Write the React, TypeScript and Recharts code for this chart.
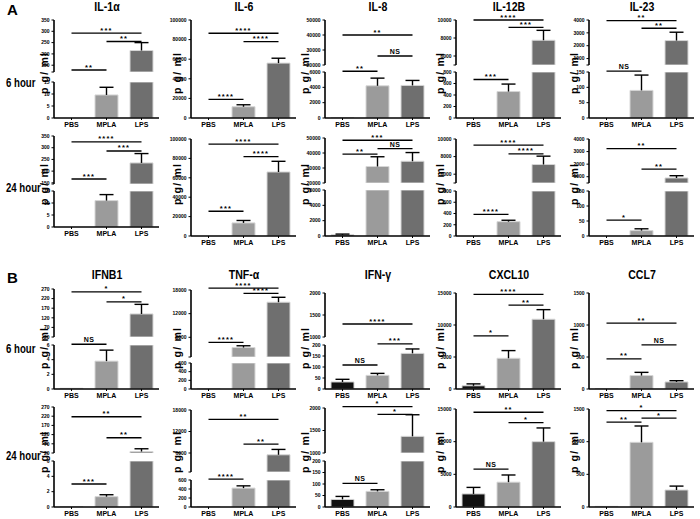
import React from 'react';
import { BarChart, Bar, XAxis, YAxis, Cell, ReferenceLine } from 'recharts';

type Sig = [string, string, number, string];

const categories = ['PBS', 'MPLA', 'LPS'];

// ---------- A : 6 hour ----------
const il1a6Mean = [0, 9.6, 215];
const il1a6Sem = [0, 3.2, 35];
const il1a6Sig: Sig[] = [['PBS', 'MPLA', 20, '**'], ['MPLA', 'LPS', 255, '**'], ['PBS', 'LPS', 292, '***']];

const il66Mean = [0, 11500, 56000];
const il66Sem = [0, 2000, 5000];
const il66Sig: Sig[] = [['PBS', 'MPLA', 19000, '****'], ['MPLA', 'LPS', 78000, '****'], ['PBS', 'LPS', 86500, '****']];

const il86Mean = [40, 4200, 4250];
const il86Sem = [0, 1000, 650];
const il86Sig: Sig[] = [['PBS', 'MPLA', 6100, '**'], ['MPLA', 'LPS', 26000, 'NS'], ['PBS', 'LPS', 40000, '**']];

const il12b6Mean = [0, 460, 7750];
const il12b6Sem = [0, 130, 1100];
const il12b6Sig: Sig[] = [['PBS', 'MPLA', 670, '***'], ['MPLA', 'LPS', 9190, '***'], ['PBS', 'LPS', 10000, '****']];

const il236Mean = [0, 90, 2400];
const il236Sem = [0, 50, 650];
const il236Sig: Sig[] = [['PBS', 'MPLA', 153, 'NS'], ['MPLA', 'LPS', 3360, '**'], ['PBS', 'LPS', 3950, '**']];

// ---------- A : 24 hour ----------
const il1a24Mean = [0, 11, 235];
const il1a24Sem = [0, 2.5, 40];
const il1a24Sig: Sig[] = [['PBS', 'MPLA', 20, '***'], ['MPLA', 'LPS', 286, '***'], ['PBS', 'LPS', 325, '****']];

const il624Mean = [0, 13500, 66000];
const il624Sem = [0, 2500, 11000];
const il624Sig: Sig[] = [['PBS', 'MPLA', 25500, '***'], ['MPLA', 'LPS', 81800, '****'], ['PBS', 'LPS', 94800, '****']];

const il824Mean = [150, 31000, 34500];
const il824Sem = [100, 6500, 5800];
const il824Sig: Sig[] = [['PBS', 'MPLA', 39300, '**'], ['MPLA', 'LPS', 42900, 'NS'], ['PBS', 'LPS', 48500, '***']];

const il12b24Mean = [0, 255, 7100];
const il12b24Sem = [0, 25, 950];
const il12b24Sig: Sig[] = [['PBS', 'MPLA', 386, '****'], ['MPLA', 'LPS', 8300, '****'], ['PBS', 'LPS', 9300, '****']];

const il2324Mean = [0, 18, 900];
const il2324Sem = [0, 6, 180];
const il2324Sig: Sig[] = [['PBS', 'MPLA', 53, '*'], ['MPLA', 'LPS', 1600, '**'], ['PBS', 'LPS', 3240, '**']];

// ---------- B : 6 hour ----------
const ifnb6Mean = [0.1, 3.8, 140];
const ifnb6Sem = [0.05, 1.5, 50];
const ifnb6Sig: Sig[] = [['PBS', 'MPLA', 6.1, 'NS'], ['MPLA', 'LPS', 203, '*'], ['PBS', 'LPS', 255, '*']];

const tnf6Mean = [10, 3400, 14900];
const tnf6Sem = [0, 450, 1250];
const tnf6Sig: Sig[] = [['PBS', 'MPLA', 4700, '****'], ['MPLA', 'LPS', 17160, '****'], ['PBS', 'LPS', 18500, '****']];

const ifng6Mean = [32, 62, 162];
const ifng6Sem = [12, 9, 20];
const ifng6Sig: Sig[] = [['PBS', 'MPLA', 109, 'NS'], ['MPLA', 'LPS', 205, '***'], ['PBS', 'LPS', 1295, '****']];

const cxcl6Mean = [500, 4800, 10900];
const cxcl6Sem = [300, 1200, 1500];
const cxcl6Sig: Sig[] = [['PBS', 'MPLA', 8300, '*'], ['MPLA', 'LPS', 13100, '**'], ['PBS', 'LPS', 14800, '****']];

const ccl76Mean = [5, 210, 110];
const ccl76Sem = [0, 50, 20];
const ccl76Sig: Sig[] = [['PBS', 'MPLA', 470, '**'], ['MPLA', 'LPS', 690, 'NS'], ['PBS', 'LPS', 1030, '**']];

// ---------- B : 24 hour ----------
const ifnb24Mean = [0.05, 1.35, 28];
const ifnb24Sem = [0, 0.25, 15];
const ifnb24Sig: Sig[] = [['PBS', 'MPLA', 3.0, '***'], ['MPLA', 'LPS', 103, '**'], ['PBS', 'LPS', 217, '**']];

const tnf24Mean = [10, 420, 5500];
const tnf24Sem = [0, 50, 1500];
const tnf24Sig: Sig[] = [['PBS', 'MPLA', 620, '****'], ['MPLA', 'LPS', 8500, '**'], ['PBS', 'LPS', 15400, '**']];

const ifng24Mean = [33, 68, 1370];
const ifng24Sem = [13, 7, 480];
const ifng24Sig: Sig[] = [['PBS', 'MPLA', 103, 'NS'], ['MPLA', 'LPS', 1860, '*'], ['PBS', 'LPS', 2030, '*']];

const cxcl24Mean = [2000, 3800, 10000];
const cxcl24Sem = [1000, 1100, 2100];
const cxcl24Sig: Sig[] = [['PBS', 'MPLA', 5800, 'NS'], ['MPLA', 'LPS', 12900, '*'], ['PBS', 'LPS', 14500, '**']];

const ccl724Mean = [10, 990, 260];
const ccl724Sem = [0, 250, 60];
const ccl724Sig: Sig[] = [['PBS', 'MPLA', 1300, '**'], ['MPLA', 'LPS', 1360, '*'], ['PBS', 'LPS', 1475, '*']];

// ---------- tick labels ----------
const il1aTopTicks = [150, 200, 250, 300, 350];
const il1aBottomTicks = [0, 5, 10, 15];
const il6Ticks = [0, 20000, 40000, 60000, 80000, 100000];
const il8TopTicks = [20000, 30000, 40000, 50000];
const il8BottomTicks = [0, 2000, 4000, 6000];
const il12bTopTicks = [6000, 8000, 10000];
const il12bBottomTicks = [0, 200, 400, 600, 800];
const il23TopTicks = [1000, 2000, 3000, 4000];
const il23BottomTicks = [0, 50, 100, 150];
const ifnbTopTicks = [20, 70, 120, 170, 220, 270];
const ifnbBottomTicks = [0, 2, 4, 6];
const tnfTopTicks = [6000, 12000, 18000];
const tnfBottomTicks = [0, 200, 400, 600];
const ifngTopTicks = [1000, 1500, 2000];
const ifngBottomTicks = [0, 50, 100, 150, 200];
const cxclTicks = [0, 5000, 10000, 15000];
const ccl7Ticks = [0, 500, 1000, 1500];

const titlesA = ['IL-1\u03b1', 'IL-6', 'IL-8', 'IL-12B', 'IL-23'];
const titlesB = ['IFNB1', 'TNF-\u03b1', 'IFN-\u03b3', 'CXCL10', 'CCL7'];
const rowLabels = ['6 hour', '24 hour', '6 hour', '24 hour'];

// ---------- layout / style ----------
const FONT = '"Liberation Sans Narrow", "Arial Narrow", "Liberation Sans", Arial, sans-serif';
const BAR_COLORS = ['#111111', '#9b9b9b', '#6f6f6f'];
const COL_X = [54, 191, 325, 456, 589];
const PLOT_W = 105;
const MT = 26;
const YW = 32;
const XH = 16;
const RIGHT = 6;

type Seg = { domain: [number, number]; ticks: number[]; y: [number, number] };
type Panel = { col: number; mean: number[]; sem: number[]; sig: Sig[]; segs: Seg[] };

const PANELS: Panel[] = [
  // row A 6h
  { col: 0, mean: il1a6Mean, sem: il1a6Sem, sig: il1a6Sig, segs: [
    { domain: [120, 350], ticks: il1aTopTicks, y: [20, 72] },
    { domain: [0, 15], ticks: il1aBottomTicks, y: [82, 118] }] },
  { col: 1, mean: il66Mean, sem: il66Sem, sig: il66Sig, segs: [
    { domain: [0, 100000], ticks: il6Ticks, y: [20, 118] }] },
  { col: 2, mean: il86Mean, sem: il86Sem, sig: il86Sig, segs: [
    { domain: [20000, 50000], ticks: il8TopTicks, y: [20, 65] },
    { domain: [0, 6000], ticks: il8BottomTicks, y: [72, 118] }] },
  { col: 3, mean: il12b6Mean, sem: il12b6Sem, sig: il12b6Sig, segs: [
    { domain: [5000, 10000], ticks: il12bTopTicks, y: [20, 65] },
    { domain: [0, 800], ticks: il12bBottomTicks, y: [72, 118] }] },
  { col: 4, mean: il236Mean, sem: il236Sem, sig: il236Sig, segs: [
    { domain: [500, 4000], ticks: il23TopTicks, y: [20, 65] },
    { domain: [0, 150], ticks: il23BottomTicks, y: [72, 118] }] },
  // row A 24h
  { col: 0, mean: il1a24Mean, sem: il1a24Sem, sig: il1a24Sig, segs: [
    { domain: [145, 350], ticks: il1aTopTicks, y: [136, 184] },
    { domain: [0, 15], ticks: il1aBottomTicks, y: [191, 227] }] },
  { col: 1, mean: il624Mean, sem: il624Sem, sig: il624Sig, segs: [
    { domain: [0, 100000], ticks: il6Ticks, y: [139, 236] }] },
  { col: 2, mean: il824Mean, sem: il824Sem, sig: il824Sig, segs: [
    { domain: [20000, 50000], ticks: il8TopTicks, y: [138, 183] },
    { domain: [0, 6000], ticks: il8BottomTicks, y: [190, 236] }] },
  { col: 3, mean: il12b24Mean, sem: il12b24Sem, sig: il12b24Sig, segs: [
    { domain: [5000, 10000], ticks: il12bTopTicks, y: [139, 183] },
    { domain: [0, 800], ticks: il12bBottomTicks, y: [191, 236] }] },
  { col: 4, mean: il2324Mean, sem: il2324Sem, sig: il2324Sig, segs: [
    { domain: [500, 4000], ticks: il23TopTicks, y: [139, 183] },
    { domain: [0, 150], ticks: il23BottomTicks, y: [191, 236] }] },
  // row B 6h
  { col: 0, mean: ifnb6Mean, sem: ifnb6Sem, sig: ifnb6Sig, segs: [
    { domain: [20, 270], ticks: ifnbTopTicks, y: [289, 337] },
    { domain: [0, 6], ticks: ifnbBottomTicks, y: [345, 389] }] },
  { col: 1, mean: tnf6Mean, sem: tnf6Sem, sig: tnf6Sig, segs: [
    { domain: [1000, 18000], ticks: tnfTopTicks, y: [290, 357] },
    { domain: [0, 600], ticks: tnfBottomTicks, y: [363, 389] }] },
  { col: 2, mean: ifng6Mean, sem: ifng6Sem, sig: ifng6Sig, segs: [
    { domain: [1000, 2000], ticks: ifngTopTicks, y: [293, 337] },
    { domain: [0, 200], ticks: ifngBottomTicks, y: [345, 389] }] },
  { col: 3, mean: cxcl6Mean, sem: cxcl6Sem, sig: cxcl6Sig, segs: [
    { domain: [0, 15000], ticks: cxclTicks, y: [293, 389] }] },
  { col: 4, mean: ccl76Mean, sem: ccl76Sem, sig: ccl76Sig, segs: [
    { domain: [0, 1500], ticks: ccl7Ticks, y: [293, 389] }] },
  // row B 24h
  { col: 0, mean: ifnb24Mean, sem: ifnb24Sem, sig: ifnb24Sig, segs: [
    { domain: [20, 270], ticks: ifnbTopTicks, y: [407, 453] },
    { domain: [0, 6], ticks: ifnbBottomTicks, y: [461, 507] }] },
  { col: 1, mean: tnf24Mean, sem: tnf24Sem, sig: tnf24Sig, segs: [
    { domain: [700, 18000], ticks: tnfTopTicks, y: [410, 472] },
    { domain: [0, 600], ticks: tnfBottomTicks, y: [480, 507] }] },
  { col: 2, mean: ifng24Mean, sem: ifng24Sem, sig: ifng24Sig, segs: [
    { domain: [1000, 2000], ticks: ifngTopTicks, y: [408, 453] },
    { domain: [0, 200], ticks: ifngBottomTicks, y: [461, 507] }] },
  { col: 3, mean: cxcl24Mean, sem: cxcl24Sem, sig: cxcl24Sig, segs: [
    { domain: [0, 15000], ticks: cxclTicks, y: [409, 507] }] },
  { col: 4, mean: ccl724Mean, sem: ccl724Sem, sig: ccl724Sig, segs: [
    { domain: [0, 1500], ticks: ccl7Ticks, y: [409, 507] }] },
];

const TITLE_Y = [6.5, 274.5];
const ROW_LABEL_Y = [82, 187, 348, 455];
const YLABEL_X = [44, 177, 305, 440, 574];
const YLABEL_Y = [73, 184, 348, 452];

const ErrShape = (props: any) => {
  const { x, y, width, height } = props;
  if (height == null || Math.abs(height) < 0.5) return <g />;
  const cx = x + width / 2;
  const top = Math.min(y, y + height);
  const bottom = Math.max(y, y + height);
  return (
    <g>
      <line x1={cx} x2={cx} y1={bottom} y2={top} stroke="#000" strokeWidth={1.4} />
      <line x1={cx - 7} x2={cx + 7} y1={top} y2={top} stroke="#000" strokeWidth={1.4} />
    </g>
  );
};

const SigText = ({ viewBox, text }: { viewBox: any; text: string }) => {
  const vb = viewBox || {};
  const x1 = vb.x1 != null ? vb.x1 : vb.x;
  const x2 = vb.x2 != null ? vb.x2 : vb.x + (vb.width || 0);
  const y = vb.y1 != null ? vb.y1 : vb.y;
  const isNS = text === 'NS';
  const fs = isNS ? 7 : 7.5;
  const base = isNS ? y - 2 : y - 0.5;
  return (
    <text
      x={(x1 + x2) / 2}
      y={base}
      textAnchor="middle"
      fontSize={fs}
      fontWeight={700}
      fontFamily={FONT}
      letterSpacing={isNS ? 0.5 : 1.2}
      fill="#000"
    >
      {text}
    </text>
  );
};

function sigSegment(panel: Panel, v: number) {
  if (panel.segs.length === 2 && v < panel.segs[0].domain[0]) return 1;
  return 0;
}

function SegmentChart({ panel, idx }: { panel: Panel; idx: number }) {
  const seg = panel.segs[idx];
  const isBottom = idx === panel.segs.length - 1;
  const [y0, y1] = seg.y;
  const plotH = y1 - y0;
  const w = YW + PLOT_W + RIGHT;
  const h = MT + plotH + (isBottom ? XH : 2);
  const rows = categories.map((c, i) => ({ cat: c, mean: panel.mean[i], sem: panel.sem[i] }));
  const sigs = panel.sig.filter((s) => sigSegment(panel, s[2]) === idx);
  const lo = seg.domain[0];
  const tickVals = seg.ticks.includes(lo) ? seg.ticks : [lo, ...seg.ticks];
  return (
    <div style={{ position: 'absolute', left: COL_X[panel.col] - YW, top: y0 - MT }}>
      <BarChart
        width={w}
        height={h}
        data={rows}
        margin={{ top: MT, right: RIGHT, bottom: isBottom ? 0 : 2, left: 0 }}
        barSize={23}
        barGap={0}
        barCategoryGap={0}
      >
        <XAxis
          dataKey="cat"
          hide={!isBottom}
          height={XH}
          interval={0}
          axisLine={{ stroke: '#000', strokeWidth: 1.6 }}
          tickLine={{ stroke: '#000' }}
          tickSize={2}
          tick={{ fontSize: 7, fontWeight: 700, fill: '#000', fontFamily: FONT }}
        />
        <YAxis
          type="number"
          domain={seg.domain}
          ticks={tickVals}
          interval={0}
          allowDataOverflow
          width={YW}
          axisLine={{ stroke: '#000', strokeWidth: 1.6 }}
          tickLine={{ stroke: '#000', strokeWidth: 1 }}
          tickSize={2.5}
          tick={{ fontSize: 5, fontWeight: 700, fill: '#000', fontFamily: FONT }}
          tickFormatter={(v: number) => (seg.ticks.includes(v) ? String(v) : '')}
        />
        <Bar dataKey="mean" stackId="a" isAnimationActive={false} stroke="#d6d6d6" strokeWidth={1}>
          {rows.map((r, i) => (
            <Cell key={r.cat} fill={BAR_COLORS[i]} />
          ))}
        </Bar>
        <Bar dataKey="sem" stackId="a" isAnimationActive={false} shape={ErrShape} fill="none" />
        {sigs.map((s, i) => (
          <ReferenceLine
            key={i}
            segment={[{ x: s[0], y: s[2] }, { x: s[1], y: s[2] }]}
            stroke="#000"
            strokeWidth={1.3}
            ifOverflow="visible"
            label={(p: any) => <SigText viewBox={p.viewBox} text={s[3]} />}
          />
        ))}
      </BarChart>
    </div>
  );
}

const textBase: React.CSSProperties = {
  position: 'absolute',
  fontFamily: FONT,
  fontWeight: 700,
  color: '#000',
  whiteSpace: 'nowrap',
  lineHeight: 1,
};

export default function App() {
  return (
    <div style={{ position: 'absolute', left: 0, top: 0, width: 700, height: 519, background: '#fff', overflow: 'hidden' }}>
      <div style={{ ...textBase, left: 7, top: 2, fontSize: 15, fontFamily: 'Liberation Sans, Arial, sans-serif' }}>A</div>
      <div style={{ ...textBase, left: 7, top: 270, fontSize: 15, fontFamily: 'Liberation Sans, Arial, sans-serif' }}>B</div>
      {titlesA.map((t, i) => (
        <div key={'ta' + i} style={{ ...textBase, left: COL_X[i] + PLOT_W / 2, top: TITLE_Y[0], fontSize: 12, transform: 'translate(-50%, -50%) scaleX(0.88)' }}>{t}</div>
      ))}
      {titlesB.map((t, i) => (
        <div key={'tb' + i} style={{ ...textBase, left: COL_X[i] + PLOT_W / 2, top: TITLE_Y[1], fontSize: 12, transform: 'translate(-50%, -50%) scaleX(0.88)' }}>{t}</div>
      ))}
      {rowLabels.map((t, i) => (
        <div key={'rl' + i} style={{ ...textBase, left: 6, top: ROW_LABEL_Y[i], fontSize: 13, transformOrigin: '0 50%', transform: 'translateY(-50%) scaleX(0.74)' }}>{t}</div>
      ))}
      {YLABEL_Y.map((yy, r) =>
        YLABEL_X.map((xx, c) => (
          <div key={'yl' + r + '-' + c} style={{ ...textBase, left: xx, top: yy, fontSize: 10.5, letterSpacing: 1.2, transform: 'translate(-50%, -50%) rotate(-90deg)' }}>p g/ ml</div>
        ))
      )}
      {PANELS.map((p, pi) =>
        p.segs.map((_, si) => <SegmentChart key={pi + '-' + si} panel={p} idx={si} />)
      )}
    </div>
  );
}
